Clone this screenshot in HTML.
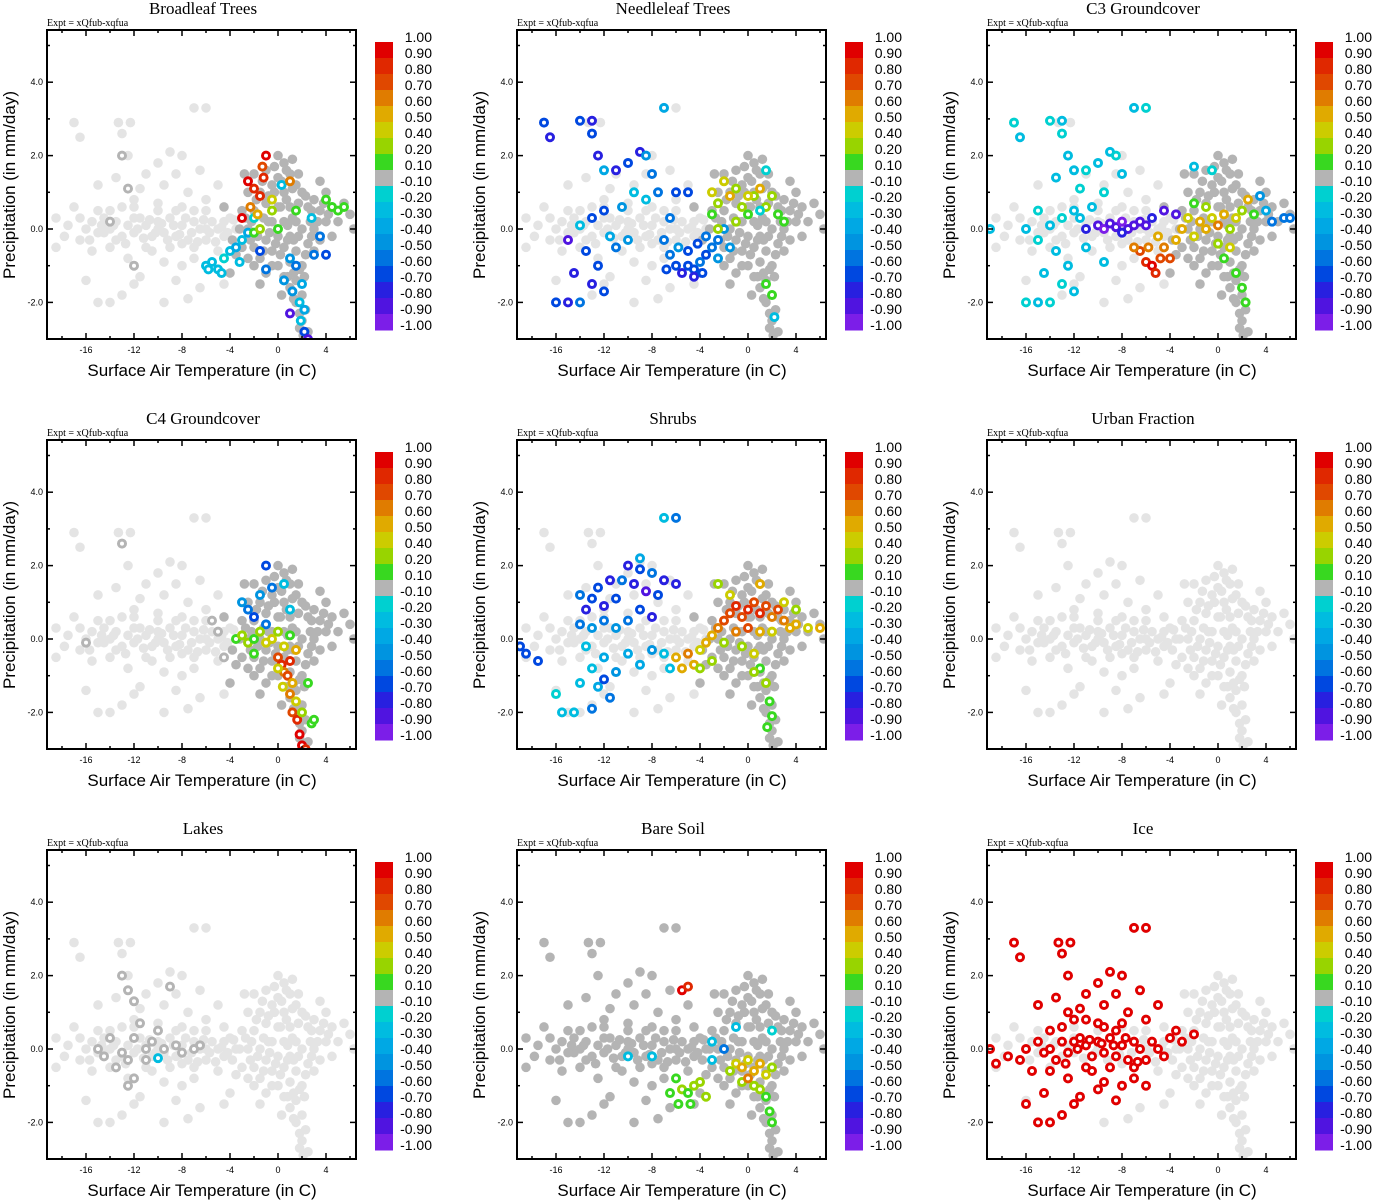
<!DOCTYPE html>
<html><head><meta charset="utf-8"><style>
html,body{margin:0;padding:0;background:#fff;}
svg{display:block;}
</style></head><body>
<svg id="chart" width="1373" height="1200" xmlns="http://www.w3.org/2000/svg"></svg>
<script>
// ---- data (temperature C, precipitation mm/day, correlation value) ----
const titles = ["Broadleaf Trees","Needleleaf Trees","C3 Groundcover","C4 Groundcover","Shrubs","Urban Fraction","Lakes","Bare Soil","Ice"];
const cbLabels = ["1.00","0.90","0.80","0.70","0.60","0.50","0.40","0.20","0.10","-0.10","-0.20","-0.30","-0.40","-0.50","-0.60","-0.70","-0.80","-0.90","-1.00"];
const cbThresholds = [0.9,0.8,0.7,0.6,0.5,0.4,0.2,0.1,-0.1,-0.2,-0.3,-0.4,-0.5,-0.6,-0.7,-0.8,-0.9];
const xTicks = [-16,-12,-8,-4,0,4];
const yTicks = [-2,0,2,4];
const yTickLabels = ["-2.0","0.0","2.0","4.0"];

const cloudLeft = [[-17,2.9],[-16.5,2.5],[-17.8,-0.2],[-18.5,-0.5],[-16,-1.4],[-15,-2],[-14,-2],[-13.3,2.9],[-13,2.6],[-12.5,2],[-12.3,2.9],[-11.5,1.1],[-14,0.5],[-13.5,-0.3],[-12.5,-0.8],[-13,-1.8],[-10,1.8],[-9,2.1],[-8.5,1.5],[-7,3.3],[-6,3.3],[-8,2],[-9.5,1.2],[-11,1.5],[-7.5,1],[-6.5,1.6],[-10.5,-0.6],[-9.5,-0.9],[-8,-1],[-7,-0.8],[-11.5,-1.3],[-15.5,-0.6],[-14.5,-0.1],[-17,0.6],[-12,0.8],[-10,0.7],[-8.5,0.5],[-6,0.8],[-5,1.2],[-4.5,-1.5],[-6.5,-1.6],[-8.5,-1.4],[-9.5,-2],[-7.5,-1.9],[-12,-1.5],[-15,1.2],[-13.5,1.4],
[-16,0],[-15.5,0.2],[-15,-0.1],[-14.5,0.3],[-14,0],[-13.5,0.2],[-13,-0.2],[-12.5,0.1],[-12,-0.1],[-11.5,0.3],[-11,0.1],[-10.5,-0.2],[-10,0.2],[-9.5,-0.1],[-9,0.3],[-8.5,-0.2],[-8,0.1],[-7.5,-0.3],[-7,0.2],[-6.5,0],[-6,-0.3],[-5.5,0.2],[-5,0],[-4.5,-0.2],[-4,0.3],[-3.5,0],[-15,0.5],[-13,0.6],[-11,-0.5],[-9,-0.5],[-7,-0.5],[-5,-0.6],[-12,0.6],[-10,0.5],[-8,0.6],[-6,0.5],[-14,-0.5],[-16.5,-0.3],[-17.5,0.1],[-18.5,0.3],[-12,0.3],[-10,0],[-8,-0.4],[-6,0],[-4.5,0.2],[-7,0.5],
[-11.7,0],[-11.2,-0.25],[-10.7,0.25],[-10.2,-0.1],[-9.7,0.15],[-9.2,-0.3],[-8.7,0.1],[-8.2,-0.15],[-7.7,0.3],[-7.2,-0.1],[-6.7,-0.35],[-6.2,0.25],[-5.7,-0.1],[-5.2,-0.35],[-4.7,0.05],[-4.2,-0.1],[-3.7,0.25],[-12.7,-0.4],[-13.7,0.1],[-14.7,0.1],[-15.7,-0.3],[-16.5,0.3]];
const cloudCentral = [[-3,0.5],[-3,-0.5],[-2.5,1],[-2.5,0],[-2.5,-0.8],[-2,1.5],[-2,0.5],[-2,-0.5],[-2,-1],[-1.5,1],[-1.5,0],[-1.5,-0.8],[-1,1.6],[-1,0.7],[-1,-0.3],[-1,-1.2],[-0.5,1.2],[-0.5,0.2],[-0.5,-0.6],[0,2],[0,1.4],[0,0.6],[0,-0.2],[0,-1],[0.5,1.8],[0.5,1],[0.5,0.2],[0.5,-0.5],[0.5,-1.3],[1,1.5],[1,0.6],[1,-0.2],[1,-0.9],[1,-1.6],[1.5,1.2],[1.5,0.2],[1.5,-0.6],[1.5,-1.4],[1.5,-2],[2,1],[2,0],[2,-1],[2,-1.8],[2,-2.5],[2.5,0.6],[2.5,-0.4],[2.5,-2.8],[2.3,-2.2],[3,0.8],[3,0],[3,-0.6],[3.5,0.5],[3.5,-0.3],[4,1],[4,0.2],[4.5,0.6],[5,0.2],[5.5,0.7],[6,0.4],[6.3,0],[-3.5,-0.7],[-4,-1.2],[-4.5,0.6],[-1.5,-1.5],[1.8,-2.7],[0.3,-1.8],[2.2,-1.3],[1.2,1.9],[-0.3,1.7],[-2.8,1.5],[3.5,1.3],[4.5,-0.2],[-0.8,0.2],[0.8,0.1],[1.3,-0.3],[-1.2,0.3],[0.2,0.6],[1.7,0.7],[2.7,0.2],[-2.2,0.2],
[-2.7,0.3],[-2.3,-0.3],[-1.8,0.8],[-1.7,-0.2],[-1.3,1.3],[-1.2,-0.6],[-0.8,0.9],[-0.7,-0.1],[-0.3,1],[-0.2,-0.4],[0.3,1.3],[0.2,-0.7],[0.7,0.8],[0.8,-0.3],[1.2,1.1],[1.2,0.3],[1.7,-0.2],[1.8,-1.1],[1.3,-1.2],[0.8,-1.3],[2.3,0.9],[2.3,-0.7],[2.8,0.5],[2.8,-0.2],[3.3,0.2],[3.8,0.7],[4.2,0.4],[1.7,1.5],[0.7,1.6],[-0.5,-1],[1.3,-1.9],[1.8,-2.3],[2.1,-2.9],[-3.2,0],[-3.8,-0.3]];

// which cloud groups are drawn as "present but ~0" (dark gray) per panel
const darkLeft = [false,false,false,false,false,false,false,true,false];
const darkCentral = [true,true,true,true,true,false,false,true,false];

const ptsBroadleaf = [[-6,-1,-0.3],[-5.5,-0.9,-0.25],[-5,-1.1,-0.3],[-4.5,-0.8,-0.2],[-4,-0.6,-0.3],[-3.5,-0.5,-0.4],[-3,-0.3,-0.3],[-2.5,-0.1,-0.35],[-2,0.3,-0.2],[-4.7,-1.2,-0.3],[-5.8,-1.1,-0.25],[-3.2,-0.9,-0.3],[1,-0.8,-0.5],[1.5,-1,-0.6],[2,-1.5,-0.4],[1.2,-1.7,-0.5],[1.8,-2,-0.3],[2.2,-2.2,-0.4],[1.9,-2.5,-0.25],[2.2,-2.8,-0.7],[2.5,-3,-0.85],[1,-2.3,-0.9],[0.5,-1.4,-0.5],[3,-0.7,-0.6],[4,-0.7,-0.7],[3.5,-0.2,-0.55],[2.8,0.3,-0.3],[0.3,1.2,-0.3],[-1.5,-0.6,-0.7],[-1,-1.1,-0.6],[-1,2,0.9],[-1.3,1.7,0.7],[-1.2,1.4,0.85],[-2,1.1,0.85],[-2.5,1.3,0.9],[-1.5,0.9,0.8],[-2.3,0.6,0.6],[-3,0.3,0.9],[-0.5,0.8,0.45],[-1.7,0.4,0.5],[1,1.3,0.6],[-0.5,0.5,0.3],[-2,-0.1,0.15],[-1.5,0,0.3],[1.5,0.5,0.15],[4,0.8,0.15],[4.5,0.6,0.1],[5,0.5,0.15],[5.5,0.6,0.1],[0,0,0.15],[-13,2,0],[-12.5,1.1,0],[-12,-1,0],[-14,0.2,0]];
const ptsNeedleleaf = [[-17,2.9,-0.7],[-16.5,2.5,-0.75],[-14,2.95,-0.7],[-13,2.95,-0.75],[-13,2.6,-0.7],[-12.5,2,-0.8],[-12,1.6,-0.4],[-11,1.6,-0.75],[-10,1.8,-0.7],[-9,2.1,-0.75],[-8.5,2,-0.5],[-7,3.3,-0.4],[-8,1.5,-0.6],[-9.5,1,-0.3],[-10.5,0.6,-0.5],[-12,0.5,-0.65],[-13,0.3,-0.7],[-14,0.1,-0.3],[-15,-0.3,-0.85],[-13.5,-0.6,-0.7],[-12.5,-1,-0.65],[-13,-1.5,-0.8],[-14.5,-1.2,-0.75],[-15,-2,-0.75],[-16,-2,-0.7],[-11,-0.5,-0.6],[-10,-0.3,-0.5],[-11.5,-0.2,-0.35],[-12,-1.7,-0.7],[-14,-2,-0.6],[-8.5,0.8,-0.3],[-7.5,1,-0.6],[-6,1,-0.7],[-5,1,-0.65],[-6.5,0.3,-0.6],[-6,-1,-0.7],[-5.5,-1.2,-0.75],[-5,-1,-0.65],[-4.5,-1.1,-0.7],[-4,-0.9,-0.6],[-3.5,-0.7,-0.65],[-3,-0.5,-0.55],[-2.5,-0.3,-0.6],[-6.5,-0.7,-0.6],[-5.8,-0.5,-0.5],[-5,-0.6,-0.65],[-4.2,-0.4,-0.7],[-3.5,-0.2,-0.6],[-2,0,-0.5],[-1.5,-0.5,-0.5],[-6.8,-1.1,-0.7],[-4.5,-1.3,-0.75],[-3.8,-1.2,-0.7],[-2.5,-0.8,-0.5],[-7,-0.3,-0.55],[-3,1,0.4],[-2.5,0.7,0.3],[-2,1.3,0.4],[-1.5,0.9,0.5],[-1,1.1,0.3],[-0.5,0.6,0.2],[0,0.4,0.15],[0.5,0.9,0.35],[1,1.1,0.5],[1.5,0.6,0.2],[2,0.9,0.3],[-3,0.4,0.15],[2.5,0.4,0.15],[3,0.2,0.1],[1.5,-1.5,0.15],[2,-1.8,0.1],[-1,0.2,0.3],[0,0.9,0.45],[-2.5,0,0.2],[1,0.5,-0.2],[2.2,-2.4,-0.25],[1.5,1.6,-0.2]];
const ptsC3 = [[-17,2.9,-0.2],[-16.5,2.5,-0.25],[-14,2.95,-0.2],[-13,2.95,-0.25],[-13,2.6,-0.2],[-12.5,2,-0.3],[-12,1.6,-0.25],[-11,1.6,-0.2],[-10,1.8,-0.25],[-9,2.1,-0.3],[-8.5,2,-0.2],[-7,3.3,-0.25],[-6,3.3,-0.2],[-8,1.5,-0.3],[-9.5,1,-0.2],[-10.5,0.6,-0.25],[-12,0.5,-0.3],[-13,0.3,-0.2],[-14,0.1,-0.25],[-15,-0.3,-0.2],[-13.5,-0.6,-0.3],[-12.5,-1,-0.25],[-13,-1.5,-0.2],[-14.5,-1.2,-0.3],[-15,-2,-0.25],[-16,-2,-0.2],[-11,-0.5,-0.3],[-12,-1.7,-0.25],[-14,-2,-0.2],[-16,0,-0.25],[-15,0.5,-0.2],[-11.5,0.3,-0.25],[-13.5,1.4,-0.3],[-11.5,1.1,-0.2],[-9.5,-0.9,-0.3],[-10,0.1,-0.9],[-9.5,0,-0.95],[-9,0.15,-0.85],[-8.5,0.05,-0.9],[-8,0.2,-0.95],[-7.5,0,-0.85],[-7,0.1,-0.9],[-6.5,0.2,-0.85],[-6,0.1,-0.9],[-5.5,0.3,-0.8],[-4.5,0.5,-0.9],[-3.5,0.4,-0.85],[-11,0,-0.8],[-8,-0.1,-0.75],[-6,-0.9,0.85],[-5.5,-1,0.9],[-5.2,-1.2,0.8],[-4.8,-0.8,0.75],[-6.5,-0.6,0.7],[-5.8,-0.5,0.65],[-4.5,-0.5,0.6],[-4,-0.8,0.7],[-3.5,-0.3,0.55],[-7,-0.5,0.6],[-5,-0.2,0.5],[-3,0,0.5],[-2.5,0.3,0.45],[-2,-0.2,0.4],[-1.5,0.2,0.55],[-1,0,0.5],[-0.5,0.3,0.45],[0,0.1,0.6],[0.5,0.4,0.5],[1,0,0.3],[1.5,0.3,0.4],[2,0.5,0.2],[-1,0.6,0.3],[0,-0.4,0.35],[-2,0.7,0.15],[2.5,0.8,0.5],[3,0.4,0.15],[0.5,-0.8,0.15],[1.5,-1.2,0.15],[2,-1.6,0.15],[2.3,-2,0.15],[1,-0.5,0.4],[4.5,0.2,-0.6],[5.5,0.3,-0.6],[6,0.3,-0.55],[3.5,0.9,-0.5],[4,0.5,-0.4],[-2,1.7,-0.3],[-0.5,1.6,-0.2],[-19,0,-0.3]];
const ptsC4 = [[-1,2,-0.7],[-3,1,-0.5],[-2.5,0.8,-0.6],[-2,0.6,-0.7],[-1.5,1.2,-0.5],[-0.5,1.4,-0.6],[0.5,1.5,-0.3],[1,0.8,-0.25],[-1,0.4,-0.6],[-3.5,0,0.15],[-3,0.1,0.2],[-2.5,-0.1,0.3],[-2,0,0.15],[-1.5,0.2,0.3],[-1,-0.1,0.4],[-0.5,0,0.45],[0,0.2,0.3],[0.5,-0.2,0.4],[1,0.1,0.15],[-2,-0.4,0.15],[0,-0.5,0.7],[0.3,-0.7,0.85],[0.5,-0.9,0.6],[1,-0.6,0.8],[0.8,-1,0.75],[1.2,-1.2,0.5],[1,-1.5,0.6],[1.5,-1.7,0.4],[1.2,-2,0.7],[1.6,-2.2,0.8],[2,-2,0.3],[1.8,-2.6,0.9],[2,-2.9,0.95],[2.3,-3,0.85],[0.4,-1.3,0.45],[1.5,-0.3,0.5],[0,-0.8,0.4],[2.5,-1.2,0.15],[2.8,-2.3,0.15],[3,-2.2,0.15],[-13,2.6,0],[-16,-0.1,0],[-5.5,0.5,0],[-4.5,-0.5,0],[-5,0.2,0]];
const ptsShrubs = [[-14,1.2,-0.6],[-13.5,0.8,-0.8],[-13,1.1,-0.7],[-12.5,1.4,-0.65],[-12,0.9,-0.75],[-11.5,1.6,-0.8],[-11,1.1,-0.7],[-10.5,1.6,-0.6],[-10,2,-0.75],[-9.5,1.5,-0.8],[-9,1.9,-0.7],[-8.5,1.3,-0.85],[-8,1.8,-0.6],[-7.5,1.2,-0.7],[-7,1.6,-0.8],[-6,1.5,-0.75],[-12,0.5,-0.6],[-13,0.3,-0.5],[-14,0.4,-0.55],[-11,0.3,-0.45],[-10,0.5,-0.6],[-9,0.8,-0.7],[-8,0.6,-0.8],[-19,-0.2,-0.7],[-18.5,-0.4,-0.65],[-17.5,-0.6,-0.7],[-6,3.3,-0.6],[-7,3.3,-0.3],[-9,2.2,-0.4],[-16,-1.5,-0.2],[-15.5,-2,-0.3],[-14.5,-2,-0.3],[-14,-1.2,-0.25],[-13,-0.8,-0.3],[-12.5,-1.3,-0.4],[-12,-0.5,-0.35],[-13.5,-0.2,-0.3],[-11,-0.9,-0.5],[-11.5,-1.6,-0.6],[-10,-0.4,-0.4],[-9,-0.7,-0.35],[-8,-0.3,-0.5],[-7,-0.4,-0.3],[-6.5,-0.8,-0.25],[-13,-1.9,-0.6],[-12,-1.1,-0.7],[-6,-0.5,0.5],[-5.5,-0.8,0.55],[-5,-0.4,0.6],[-4.5,-0.7,0.5],[-4,-0.3,0.4],[-3.5,-0.1,0.55],[-3,0.1,0.5],[-2.5,0.3,0.6],[-2,0.5,0.7],[-1.5,0.7,0.75],[-1,0.9,0.8],[-0.5,0.6,0.7],[0,0.8,0.85],[0.5,1,0.75],[1,0.7,0.8],[1.5,0.9,0.7],[2,0.6,0.65],[2.5,0.8,0.7],[3,0.5,0.6],[3.5,0.3,0.55],[4,0.4,0.5],[5,0.3,0.45],[6,0.3,0.5],[-1,0.2,0.6],[0,0.3,0.7],[1,0.2,0.5],[2,0.2,0.45],[-0.5,-0.2,0.3],[0.5,-0.4,0.4],[-2,-0.1,0.3],[-4,-0.8,0.2],[-3,-0.6,0.3],[1,-0.8,0.15],[1.5,-1.2,0.2],[1.8,-1.7,0.15],[2,-2.1,0.15],[1.6,-2.4,0.15],[0.5,-0.9,0.2],[-1.5,1.2,0.4],[1,1.5,0.5],[-2.5,1.5,0.3],[3,1,0.4],[4,0.8,0.3]];
const ptsUrban = [];
const ptsLakes = [[-13,2,0],[-12.5,1.6,0],[-12,1.3,0],[-11.5,0.7,0],[-12,0.3,0],[-13,-0.1,0],[-12.5,-0.3,0],[-13.5,-0.5,0],[-12,-0.8,0],[-11,0,0],[-10.5,0.2,0],[-9.5,0,0],[-8.5,0.1,0],[-8,-0.1,0],[-7,0,0],[-6.5,0.1,0],[-14.5,-0.2,0],[-15,0,0],[-11,-0.3,0],[-10,0.5,0],[-9,1.7,0],[-14,0.3,0],[-12.5,-1,0],[-10,-0.25,-0.25]];
const ptsBareSoil = [[-6,-0.8,0.15],[-5.5,-1.1,0.2],[-5,-1.2,0.15],[-4.5,-1,0.3],[-4,-0.9,0.2],[-6.5,-1.2,0.15],[-5.8,-1.5,0.1],[-4.8,-1.5,0.15],[-3.5,-1.3,0.2],[-1,-0.4,0.4],[-0.5,-0.5,0.5],[0,-0.3,0.45],[0.5,-0.6,0.55],[1,-0.4,0.5],[1.5,-0.7,0.4],[0.5,-1,0.3],[-0.5,-0.9,0.35],[1,-1.1,0.2],[2,-0.5,0.3],[1.5,-1.3,0.15],[1.8,-1.7,0.15],[2,-2,0.1],[-1.5,-0.6,0.3],[0,-0.8,0.6],[-5.5,1.6,0.9],[-5,1.7,0.85],[-3,-0.3,-0.3],[-2,0,-0.6],[-10,-0.2,-0.25],[-8,-0.2,-0.3],[-3,0.2,-0.25],[-1,0.6,-0.3],[2,0.5,-0.2]];
const ptsIce = [[-17,2.9,0.95],[-16.5,2.5,0.95],[-17.5,-0.2,0.95],[-19,0,0.95],[-18.5,-0.4,0.95],[-16,-1.5,0.95],[-15,-2,0.95],[-14,-2,0.95],[-13.3,2.9,0.95],[-12.3,2.9,0.95],[-13,2.6,0.95],[-12.5,2,0.95],[-11.5,1.1,0.95],[-14,0.5,0.95],[-13.5,-0.3,0.95],[-12.5,-0.8,0.95],[-13,-1.8,0.95],[-10,1.8,0.95],[-9,2.1,0.95],[-8.5,1.5,0.95],[-7,3.3,0.95],[-6,3.3,0.95],[-8,2,0.95],[-9.5,1.2,0.95],[-11,1.5,0.95],[-7.5,1,0.95],[-6.5,1.6,0.95],[-10.5,-0.6,0.95],[-9.5,-0.9,0.95],[-8,-1,0.95],[-7,-0.8,0.95],[-11.5,-1.3,0.95],[-15.5,-0.6,0.95],[-14.5,-0.1,0.95],[-12,0.8,0.95],[-10,0.7,0.95],[-8.5,0.5,0.95],[-6,0.8,0.95],[-5,1.2,0.95],[-15,1.2,0.95],[-13.5,1.4,0.95],[-16,0,0.95],[-15,0.2,0.95],[-14,0,0.95],[-13,0.2,0.95],[-12.5,-0.1,0.95],[-12,0.2,0.95],[-11.5,0.3,0.95],[-11,0.1,0.95],[-10.5,-0.2,0.95],[-10,0.2,0.95],[-9.5,-0.1,0.95],[-9,0.3,0.95],[-8.5,-0.2,0.95],[-8,0.1,0.95],[-7.5,-0.3,0.95],[-7,0.2,0.95],[-6.5,0,0.95],[-6,-0.3,0.95],[-5.5,0.2,0.95],[-5,0,0.95],[-4.5,-0.2,0.95],[-4,0.3,0.95],[-3.5,0.5,0.95],[-3,0.2,0.95],[-2,0.4,0.95],[-13,0.6,0.95],[-11,-0.5,0.95],[-9,-0.5,0.95],[-7,-0.5,0.95],[-12,-1.5,0.95],[-14.5,-1.2,0.95],[-11,0.8,0.95],[-9.5,0.6,0.95],[-8,0.7,0.95],[-12.5,1,0.95],[-10,-1.1,0.95],[-8.5,-1.4,0.95],[-6,-1,0.95],[-14,-0.6,0.95],[-16.5,-0.3,0.95],[-11.7,0,0.95],[-10.7,0.25,0.95],[-9.7,0.15,0.95],[-8.7,0.1,0.95],[-7.7,0.3,0.95],[-6.7,-0.35,0.95],[-12.7,-0.4,0.95]];
const panelPoints = [ptsBroadleaf,ptsNeedleleaf,ptsC3,ptsC4,ptsShrubs,ptsUrban,ptsLakes,ptsBareSoil,ptsIce];
const cbColors = ["#e00000","#e02800","#e04800","#e07c00","#e0aa00","#cccc00","#98d400","#38d820","#b4b4b4","#00d0d0","#00bce0","#00a8e4","#0094e0","#0074e0","#0048e0","#2820e0","#5014e0","#7c1ee8"];

// ---- drawing ----
const NS = "http://www.w3.org/2000/svg";
const svg = document.getElementById("chart");
function mk(tag, attrs, parent){const e=document.createElementNS(NS,tag);for(const k in attrs)e.setAttribute(k,attrs[k]);parent.appendChild(e);return e;}
const PL=47, PR=356, PT=30, PB=339;
function sx(t){return PL+(t+19.25)*12;}
function sy(p){return 229-p*36.7;}
function colorFor(v){for(let i=0;i<cbThresholds.length;i++){if(v>=cbThresholds[i])return cbColors[i];}return cbColors[17];}

titles.forEach((title,i)=>{
  const ox=(i%3)*470, oy=Math.floor(i/3)*410;
  const g=mk("g",{transform:`translate(${ox},${oy})`},svg);
  
  
  const tt=mk("text",{x:203,y:14,"text-anchor":"middle","font-family":"Liberation Serif, serif","font-size":17},g);
  tt.textContent=title;
  
  
  const ex=mk("text",{x:47,y:26,"font-family":"Liberation Serif, serif","font-size":10},g);
  ex.textContent="Expt = xQfub-xqfua";
  
  
  const clip=mk("clipPath",{id:"clip"+i},g);
  mk("rect",{x:PL,y:PT,width:PR-PL,height:PB-PT},clip);
  const pg=mk("g",{"clip-path":`url(#clip${i})`},g);
  
  
  const groups=[[cloudLeft,darkLeft[i]],[cloudCentral,darkCentral[i]]];
  groups.forEach(([arr,dark])=>{
    arr.forEach(d=>{
      const c=mk("circle",{cx:sx(d[0]),cy:sy(d[1]),r:4.8,fill:dark?"#b4b4b4":"#e4e4e4"},pg);
      
      
    });
  });
  panelPoints[i].forEach(d=>{
    const c=mk("circle",{cx:sx(d[0]),cy:sy(d[1]),r:3.5,fill:"#fff",stroke:colorFor(d[2]),"stroke-width":3},pg);
    
    
  });
  const fr=mk("rect",{x:PL,y:PT,width:PR-PL,height:PB-PT,fill:"none",stroke:"#000","stroke-width":2},g);
  
  
  for(let t=-18;t<=6;t+=2){
    const major=xTicks.includes(t), L=major?6:3, x=sx(t);
    mk("line",{x1:x,x2:x,y1:PB,y2:PB-L,stroke:"#000","stroke-width":1.5},g);
    mk("line",{x1:x,x2:x,y1:PT,y2:PT+L,stroke:"#000","stroke-width":1.5},g);
  }
  xTicks.forEach(t=>{
    const l=mk("text",{x:sx(t),y:PB+14,"text-anchor":"middle","font-family":"Liberation Sans, sans-serif","font-size":9},g);
    l.textContent=String(t);
    
    
  });
  for(let p=-3;p<=5;p+=1){
    const major=yTicks.includes(p), L=major?6:3, y=sy(p);
    mk("line",{x1:PL,x2:PL+L,y1:y,y2:y,stroke:"#000","stroke-width":1.5},g);
    mk("line",{x1:PR,x2:PR-L,y1:y,y2:y,stroke:"#000","stroke-width":1.5},g);
  }
  yTicks.forEach((p,k)=>{
    const l=mk("text",{x:PL-4,y:sy(p)+3,"text-anchor":"end","font-family":"Liberation Sans, sans-serif","font-size":9},g);
    l.textContent=yTickLabels[k];
    
    
  });
  const yt=mk("text",{x:0,y:0,transform:"translate(15,185) rotate(-90)","text-anchor":"middle","font-family":"Liberation Sans, sans-serif","font-size":17},g);
  yt.textContent="Precipitation (in mm/day)";
  
  
  const xt=mk("text",{x:202,y:376,"text-anchor":"middle","font-family":"Liberation Sans, sans-serif","font-size":17},g);
  xt.textContent="Surface Air Temperature (in C)";
  
  
  const cb=mk("g",{},g);
  
  
  cbColors.forEach((c,k)=>{
    const r=mk("rect",{x:375,y:42+16*k,width:18,height:16.5,fill:c},cb);
    
    
  });
  cbLabels.forEach((s,k)=>{
    const l=mk("text",{x:432,y:42+16*k,"text-anchor":"end","font-family":"Liberation Sans, sans-serif","font-size":14},cb);
    l.textContent=s;
    
    
  });
});
</script>
</body></html>
